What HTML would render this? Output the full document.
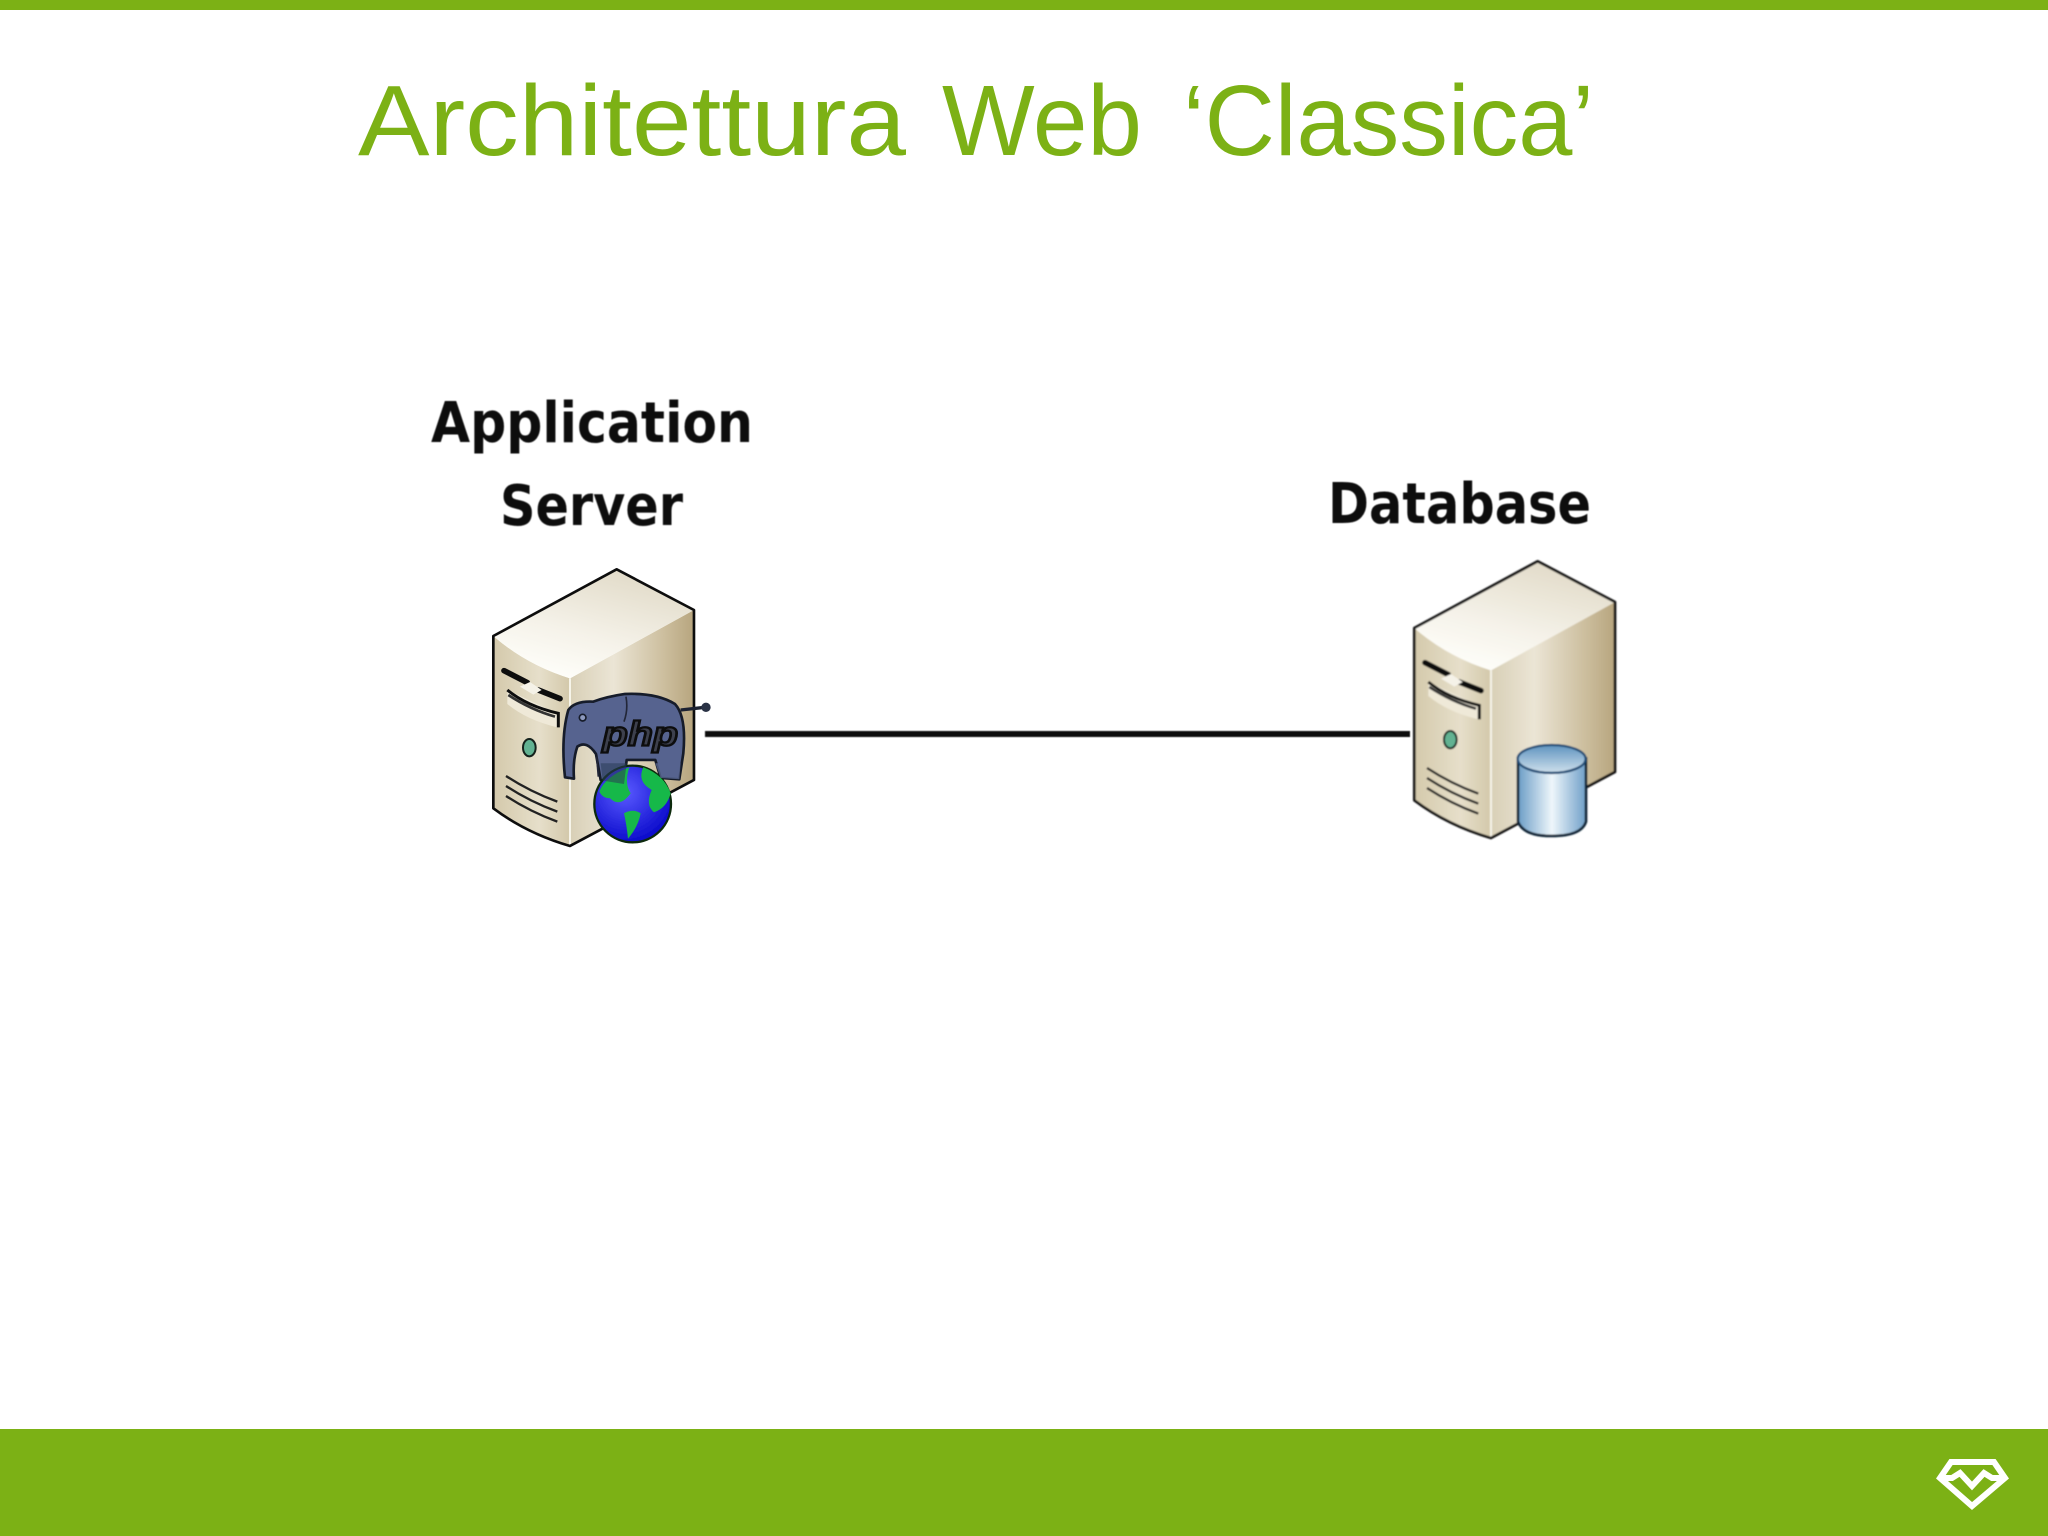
<!DOCTYPE html>
<html><head><meta charset="utf-8"><title>Architettura Web</title>
<style>html,body{margin:0;padding:0;background:#fff}svg{display:block}</style></head>
<body>
<svg xmlns="http://www.w3.org/2000/svg" width="2048" height="1536" viewBox="0 0 2048 1536">
<defs>
<filter id="soft" x="-5%" y="-5%" width="110%" height="110%"><feGaussianBlur stdDeviation="0.8"/></filter>
<filter id="soft2" x="-5%" y="-20%" width="110%" height="140%"><feGaussianBlur stdDeviation="0.5"/></filter>
<linearGradient id="top" x1="0.75" y1="0" x2="0.25" y2="1"><stop offset="0" stop-color="#e0d9c6"/><stop offset=".6" stop-color="#f5f2e9"/><stop offset="1" stop-color="#fffffb"/></linearGradient>
<linearGradient id="front" x1="0" y1="0" x2="1" y2="0"><stop offset="0" stop-color="#d4c9ab"/><stop offset=".6" stop-color="#e6dfca"/><stop offset="1" stop-color="#d3c8aa"/></linearGradient>
<linearGradient id="right" x1="0" y1="0" x2="1" y2="0"><stop offset="0" stop-color="#d8cfb6"/><stop offset=".35" stop-color="#ebe5d5"/><stop offset=".75" stop-color="#cdbf9f"/><stop offset="1" stop-color="#b7a57e"/></linearGradient>
<linearGradient id="cyl" x1="0" y1="0" x2="1" y2="0"><stop offset="0" stop-color="#6b9dc6"/><stop offset=".5" stop-color="#eef6fb"/><stop offset="1" stop-color="#6f9fc8"/></linearGradient>
<linearGradient id="cyltop" x1="0" y1="0" x2="0" y2="1"><stop offset="0" stop-color="#5e93bf"/><stop offset="1" stop-color="#cfe0ec"/></linearGradient>
<radialGradient id="globe" cx=".4" cy=".35" r=".7"><stop offset="0" stop-color="#5a5aff"/><stop offset="1" stop-color="#0606c8"/></radialGradient>
<g id="server">
  <path d="M300 385L672 180V690L300 888Z" fill="url(#right)"/>
  <path d="M70 258Q170 345 300 385V888Q170 850 70 775Z" fill="url(#front)"/>
  <path d="M440 58L672 180L300 385Q170 345 70 258Z" fill="url(#top)"/>
  <path d="M300 385V888" stroke="#f7f4ea" stroke-width="6" fill="none"/>
  <path d="M70 258L440 58L672 180V690L300 888Q170 850 70 775Z" fill="none" stroke="#111" stroke-width="8" stroke-linejoin="round"/>
  <path d="M102 362L172 398M205 420L270 446" stroke="#0c0c0c" stroke-width="17" fill="none" stroke-linecap="round"/>
  <path d="M150 410L180 396L215 420L190 434Z" fill="#f5f2e8"/>
  <path d="M112 420L262 490V532Q170 510 112 462Z" fill="#efe9d8"/>
  <path d="M112 420Q170 468 265 490V532" stroke="#111" stroke-width="9" fill="none"/>
  <path d="M115 435Q180 478 255 500" stroke="#333" stroke-width="8" fill="none"/>
  <ellipse cx="178" cy="593" rx="19" ry="26" fill="#62b292" stroke="#14241f" stroke-width="6"/>
  <path d="M108 678Q180 725 262 755M108 708Q180 755 262 785M108 738Q180 785 262 815" stroke="#222" stroke-width="7" fill="none"/>
</g>
</defs>

<rect x="0" y="0" width="2048" height="10" fill="#7cb115"/>
<rect x="0" y="1429" width="2048" height="107" fill="#7cb115"/>

<g font-family="'Liberation Sans',sans-serif" font-size="100" fill="#7cb115">
<text x="358" y="155" textLength="548" lengthAdjust="spacingAndGlyphs">Architettura</text>
<text x="942" y="155" textLength="200" lengthAdjust="spacingAndGlyphs">Web</text>
<text x="1183" y="155" textLength="411" lengthAdjust="spacingAndGlyphs">‘Classica’</text>
</g>

<g font-family="'DejaVu Sans',sans-serif" font-weight="bold" font-size="56" fill="#0c0c0c" filter="url(#soft2)">
<text x="431" y="442" textLength="322" lengthAdjust="spacingAndGlyphs">Application</text>
<text x="500" y="525" textLength="183" lengthAdjust="spacingAndGlyphs">Server</text>
<text x="1328" y="523" textLength="263" lengthAdjust="spacingAndGlyphs">Database</text>
</g>

<rect x="705" y="731" width="705" height="6" fill="#0d0d0d" filter="url(#soft2)"/>

<!-- application server -->
<g transform="translate(470 550) scale(.3333)" filter="url(#soft)">
  <use href="#server"/>
  <!-- elephant -->
  <path d="M285 682Q272 560 295 480Q315 452 370 455Q410 440 465 432Q560 428 615 462Q650 500 640 610L628 688L572 684L556 630L470 630L462 702L392 690L378 612Q350 570 322 590Q308 630 312 686Z" fill="#56648f" stroke="#181d2b" stroke-width="8" stroke-linejoin="round"/>
  <path d="M468 440Q475 480 462 515M380 620L385 680" stroke="#222839" stroke-width="5" fill="none"/>
  <circle cx="338" cy="503" r="10" fill="#8d99bd" stroke="#181d2b" stroke-width="5"/>
  <path d="M632 480L705 472" stroke="#1e2433" stroke-width="10"/>
  <circle cx="708" cy="472" r="14" fill="#2a3145"/>
  <!-- globe -->
  <circle cx="488" cy="762" r="115" fill="url(#globe)" stroke="#0c2c10" stroke-width="7"/>
  <path d="M388 725Q405 680 478 652Q462 700 482 730Q450 775 420 745Q398 745 388 725Z" fill="#16b84a"/>
  <path d="M520 652Q582 675 602 730Q590 775 552 787Q525 765 545 720Q500 695 520 652Z" fill="#16b84a"/>
  <path d="M462 790Q490 775 512 790Q505 830 474 866Q470 825 462 790Z" fill="#16b84a"/>
  <path d="M392 640L398 692L462 702L470 640Z" fill="#2a3a55" opacity=".55"/>
  <path d="M556 640L572 684L628 688L632 640Z" fill="#56648f" opacity=".8"/>
  <text x="398" y="586" font-family="'Liberation Sans',sans-serif" font-weight="bold" font-style="italic" font-size="104" fill="#3e414e" stroke="#08080c" stroke-width="7" textLength="226" lengthAdjust="spacingAndGlyphs">php</text>
</g>

<!-- database server -->
<g filter="url(#soft)">
<g transform="translate(1391 542) scale(.3333)"><use href="#server"/></g>
<g transform="translate(1400 550) scale(.3333)">
  <path d="M354 625V815Q370 858 455 858Q545 858 558 815V625Z" fill="url(#cyl)" stroke="#0e2234" stroke-width="8"/>
  <ellipse cx="455" cy="627" rx="102" ry="42" fill="url(#cyltop)" stroke="#1f4c75" stroke-width="7"/>
</g>
</g>

<!-- logo -->
<g fill="none" stroke="#fff" stroke-width="6" stroke-linejoin="miter">
  <path d="M1951 1462H1994L2005 1478L1972 1506L1940 1478Z"/>
  <path d="M1940 1478H1952L1960 1473L1972 1486L1984 1473L1992 1478H2005"/>
</g>
</svg>
</body></html>
